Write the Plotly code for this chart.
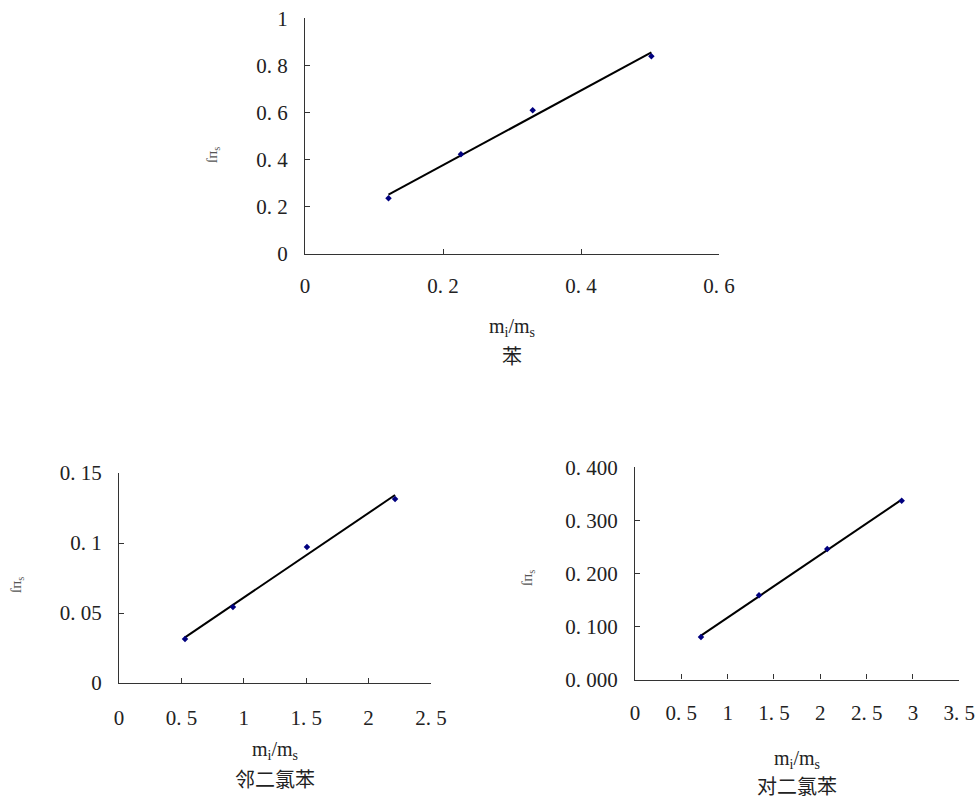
import numpy as np
import plotly.graph_objects as go

W, H = 977, 801

# Response factor vs mass ratio for the three compounds
benzene_x = [0.121, 0.226, 0.330, 0.502]
benzene_y = [0.236, 0.423, 0.610, 0.839]

odcb_x = [0.529, 0.913, 1.506, 2.212]
odcb_y = [0.0314, 0.0543, 0.0971, 0.1314]

pdcb_x = [0.712, 1.338, 2.075, 2.878]
pdcb_y = [0.0802, 0.159, 0.246, 0.337]

benzene_xticks = [0, 0.2, 0.4, 0.6]
benzene_xlabels = ["0", "0. 2", "0. 4", "0. 6"]
benzene_yticks = [0, 0.2, 0.4, 0.6, 0.8, 1]
benzene_ylabels = ["0", "0. 2", "0. 4", "0. 6", "0. 8", "1"]

odcb_xticks = [0, 0.5, 1, 1.5, 2, 2.5]
odcb_xlabels = ["0", "0. 5", "1", "1. 5", "2", "2. 5"]
odcb_yticks = [0, 0.05, 0.1, 0.15]
odcb_ylabels = ["0", "0. 05", "0. 1", "0. 15"]

pdcb_xticks = [0, 0.5, 1, 1.5, 2, 2.5, 3, 3.5]
pdcb_xlabels = ["0", "0. 5", "1", "1. 5", "2", "2. 5", "3", "3. 5"]
pdcb_yticks = [0, 0.1, 0.2, 0.3, 0.4]
pdcb_ylabels = ["0. 000", "0. 100", "0. 200", "0. 300", "0. 400"]

names = ["苯", "邻二氯苯", "对二氯苯"]

SERIF = "Liberation Serif, DejaVu Serif, serif"
CJK = "Noto Sans CJK SC, sans-serif"
TXT = "#222222"


def px_x(p):
    return p / W


def px_y(p):
    return (H - p) / H


panels = [
    dict(x=benzene_x, y=benzene_y, xt=benzene_xticks, xl=benzene_xlabels,
         yt=benzene_yticks, yl=benzene_ylabels, xr=[0, 0.6], yr=[0, 1],
         xd=[305, 719], yd=[254, 18.3], name=names[0],
         xtitle_y=327, name_y=355, ytitle_x=213, ytitle_y=155, xstand=13),
    dict(x=odcb_x, y=odcb_y, xt=odcb_xticks, xl=odcb_xlabels,
         yt=odcb_yticks, yl=odcb_ylabels, xr=[0, 2.5], yr=[0, 0.15],
         xd=[119, 431], yd=[683, 473], name=names[1],
         xtitle_y=750, name_y=778, ytitle_x=17, ytitle_y=585, xstand=16),
    dict(x=pdcb_x, y=pdcb_y, xt=pdcb_xticks, xl=pdcb_xlabels,
         yt=pdcb_yticks, yl=pdcb_ylabels, xr=[0, 3.5], yr=[0, 0.4],
         xd=[635, 959.3], yd=[679.5, 467.3], name=names[2],
         xtitle_y=759, name_y=785, ytitle_x=528, ytitle_y=578, xstand=14),
]

fig = go.Figure()
annotations = []

for i, p in enumerate(panels, start=1):
    xa = "x" if i == 1 else f"x{i}"
    ya = "y" if i == 1 else f"y{i}"

    xs = np.array(p["x"])
    ys = np.array(p["y"])
    slope, icpt = np.polyfit(xs, ys, 1)
    lx = np.array([xs.min(), xs.max()])
    ly = slope * lx + icpt

    fig.add_trace(go.Scatter(x=lx, y=ly, mode="lines",
                             line=dict(color="black", width=2),
                             xaxis=xa, yaxis=ya, showlegend=False,
                             hoverinfo="skip"))
    fig.add_trace(go.Scatter(x=p["x"], y=p["y"], mode="markers",
                             marker=dict(symbol="diamond", size=5,
                                         color="#00007f"),
                             xaxis=xa, yaxis=ya, showlegend=False))

    axis_common = dict(showgrid=False, zeroline=False, showline=True,
                       linecolor="#333333", linewidth=1.3,
                       ticks="inside", ticklen=5, tickwidth=1,
                       tickcolor="#333333", automargin=False,
                       tickfont=dict(family=SERIF, size=21, color=TXT))

    fig.update_layout(**{
        ("xaxis" if i == 1 else f"xaxis{i}"): dict(
            axis_common, domain=[px_x(p["xd"][0]), px_x(p["xd"][1])],
            range=p["xr"], tickmode="array", tickvals=p["xt"],
            ticktext=p["xl"], anchor=ya, ticklabelstandoff=p["xstand"]),
        ("yaxis" if i == 1 else f"yaxis{i}"): dict(
            axis_common, domain=[px_y(p["yd"][0]), px_y(p["yd"][1])],
            range=p["yr"], tickmode="array", tickvals=p["yt"],
            ticktext=p["yl"], anchor=xa, ticklabelstandoff=12),
    })

    cx = (p["xd"][0] + p["xd"][1]) / 2
    annotations.append(dict(
        x=px_x(cx), y=px_y(p["xtitle_y"]), xref="paper", yref="paper",
        text="m<sub>i</sub>/m<sub>s</sub>", showarrow=False,
        font=dict(family=SERIF, size=20, color=TXT),
        xanchor="center", yanchor="middle"))
    annotations.append(dict(
        x=px_x(cx), y=px_y(p["name_y"]), xref="paper", yref="paper",
        text=p["name"], showarrow=False,
        font=dict(family=CJK, size=20, color=TXT),
        xanchor="center", yanchor="middle"))
    annotations.append(dict(
        x=px_x(p["ytitle_x"]), y=px_y(p["ytitle_y"]), xref="paper",
        yref="paper", text="ſп<sub>s</sub>", showarrow=False, textangle=-90,
        font=dict(family=SERIF, size=15, color="#555555"),
        xanchor="center", yanchor="middle"))

fig.update_layout(
    width=W, height=H,
    margin=dict(l=0, r=0, t=0, b=0, autoexpand=False),
    paper_bgcolor="white", plot_bgcolor="white",
    annotations=annotations,
)

fig.write_html("out.html")
